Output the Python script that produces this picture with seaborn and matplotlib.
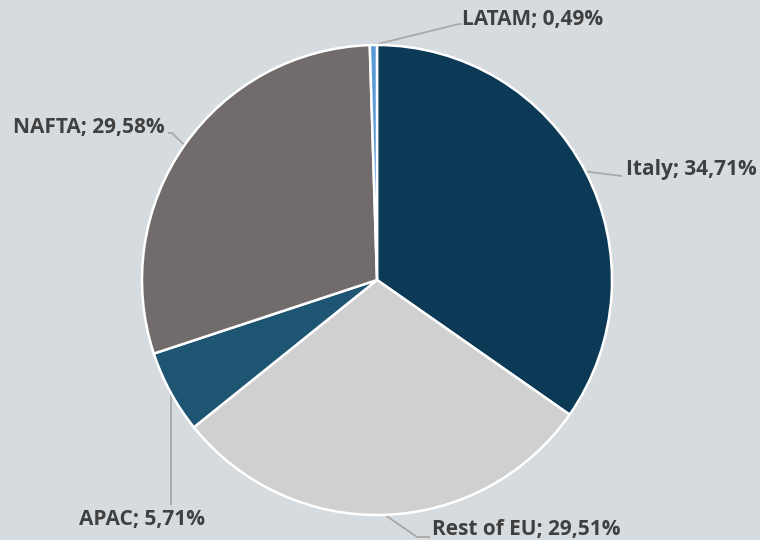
import numpy as np
import matplotlib
matplotlib.use("Agg")
import matplotlib.pyplot as plt
import seaborn as sns

# data
regions = ["Italy", "Rest of EU", "APAC", "NAFTA", "LATAM"]
shares = [34.71, 29.51, 5.71, 29.58, 0.49]
colors = ["#0b3956", "#d0d0d0", "#1d5573", "#716c6b", "#5b9bd5"]

sns.set_theme(style="white")
plt.rcParams["font.family"] = ["Open Sans", "DejaVu Sans"]

BG = "#d6dbdf"
fig = plt.figure(figsize=(7.6, 5.4), dpi=100, facecolor=BG)
ax = fig.add_axes([0, 0, 1, 1])
ax.set_facecolor(BG)

cx, cy, r = 377, 260, 235
wedges, _ = ax.pie(shares, colors=colors, startangle=90, counterclock=False,
                   center=(cx, cy), radius=r, frame=True,
                   wedgeprops=dict(edgecolor="white", linewidth=1.8))
ax.set_xlim(0, 760)
ax.set_ylim(0, 540)
ax.set_aspect("equal")
ax.axis("off")

# label layout: elbow point, line end, text pos, ha
layout = {
    "Italy":      ((622, 364), (622, 364), (626, 370), "left"),
    "Rest of EU": ((417, 3), (430, 3), (432, 10), "left"),
    "APAC":       ((171, 35), (171, 35), (142, 20), "center"),
    "NAFTA":      ((172, 407), (168, 407), (165, 412), "right"),
    "LATAM":      ((459, 516), (462, 516), (462, 521), "left"),
}

label_color = "#404040"
line_color = "#a9a9a9"
for w, name, val in zip(wedges, regions, shares):
    elbow, end, tpos, ha = layout[name]
    ang = np.deg2rad((w.theta1 + w.theta2) / 2)
    anchor = (cx + r * np.cos(ang), cy + r * np.sin(ang))
    if name == "APAC":
        # vertical leader dropping from the wedge rim
        anchor = (elbow[0], cy - np.sqrt(r**2 - (elbow[0] - cx) ** 2))
    ax.plot([anchor[0], elbow[0], end[0]], [anchor[1], elbow[1], end[1]],
            color=line_color, lw=1.3, solid_capstyle="butt", zorder=0.5)
    txt = f"{name}; {val:.2f}%".replace(".", ",")
    ax.text(tpos[0], tpos[1], txt, ha=ha, va="center", fontsize=15,
            fontweight="bold", color=label_color)

fig.savefig("out.png", dpi=100, facecolor=BG)
